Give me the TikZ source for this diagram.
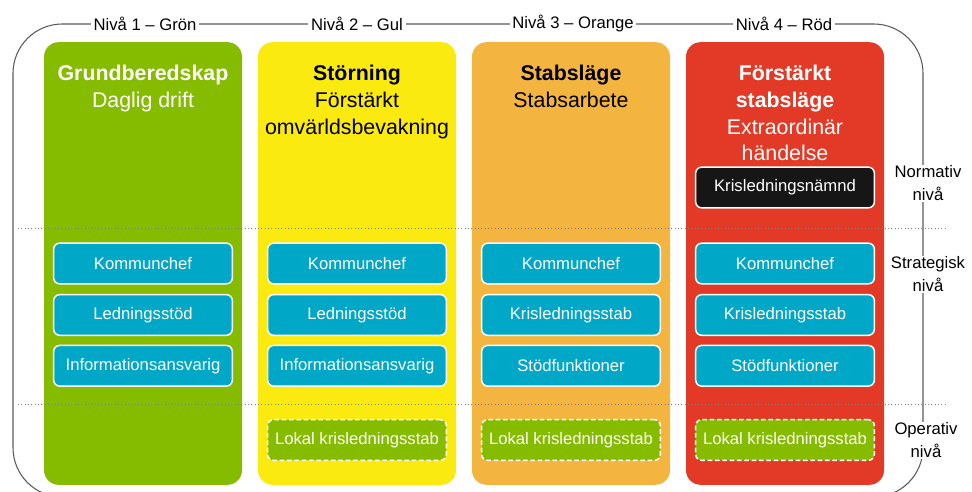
\documentclass[tikz,border=0pt]{standalone}
\usepackage{fontspec}
\setmainfont{Liberation Sans}
\usepackage{xcolor}
\usepackage{tikz}
\usetikzlibrary{positioning}

\definecolor{grn}{RGB}{133,188,0}
\definecolor{yel}{RGB}{251,234,16}
\definecolor{org}{RGB}{243,181,64}
\definecolor{redc}{RGB}{227,58,39}
\definecolor{cyanbox}{RGB}{0,167,198}
\definecolor{blk}{RGB}{22,22,22}
\definecolor{framegray}{RGB}{90,90,90}

\tikzset{
  col/.style={rounded corners=11pt,minimum width=148.5pt,minimum height=332pt,inner sep=0pt},
  role/.style={draw=white,line width=1.1pt,fill=cyanbox,text=white,rounded corners=4.5pt,
    minimum width=134pt,minimum height=30.5pt,inner sep=0pt,font=\fontsize{12.5}{15}\selectfont},
  lokal/.style={role,fill=grn,dash pattern=on 3.5pt off 2pt},
  title/.style={anchor=north,align=center,inner sep=0pt,font=\fontsize{16}{20}\selectfont},
  lvl/.style={fill=white,inner sep=2pt,font=\fontsize{12.5}{15}\selectfont},
  side/.style={fill=white,inner sep=1pt,align=center,font=\fontsize{12.5}{17.25}\selectfont}
}

\begin{document}
\begin{tikzpicture}[x=0.75pt,y=-0.75pt]
        \useasboundingbox (0,0) rectangle (972,492);
        \clip (0,0) rectangle (972,492);

        % Outer frame
        \draw[framegray,line width=0.8pt,rounded corners=37pt] (13,24) rectangle (923,497);

        % The four columns
        \foreach \i/\c in {1/grn,2/yel,3/org,4/redc} {
            \node[col,fill=\c] (col\i) at ({143+214*(\i-1)},263.5) {};
        }

        % Level borders
        \draw[gray,dotted,line width=0.5pt] (18,228) -- (946,228);
        \draw[gray,dotted,line width=0.5pt] (18,404) -- (946,404);

        % Column titles
        \node[title,text=white] (t1) at (col1.center |- 0,65) {\textbf{Grundberedskap}\\Daglig drift};
        \node[title] (t2) at (col2.center |- 0,65) {\textbf{Störning}\\Förstärkt\\omvärldsbevakning};
        \node[title] (t3) at (col3.center |- 0,65) {\textbf{Stabsläge}\\Stabsarbete};
        \node[title,text=white] (t4) at (col4.center |- 0,65) {\textbf{Förstärkt}\\\textbf{stabsläge}\\Extraordinär\\händelse};

        % Normative level
        \node[role,fill=blk] (nmd) at (col4.center |- 0,187.5) {Krisledningsnämnd};

        % Strategic level
        \foreach \i/\a/\b/\c in {1/Kommunchef/Ledningsstöd/Informationsansvarig,
                                 2/Kommunchef/Ledningsstöd/Informationsansvarig,
                                 3/Kommunchef/Krisledningsstab/Stödfunktioner,
                                 4/Kommunchef/Krisledningsstab/Stödfunktioner} {
            \node[role] (ka\i) at (col\i.center |- 0,263.5) {\a};
            \node[role,below=7pt of ka\i] (kb\i) {\b};
            \node[role,below=6.5pt of kb\i] (kc\i) {\c};
        }

        % Operative level
        \foreach \i in {2,3,4} {
            \node[lokal] (lk\i) at (col\i.center |- 0,440) {Lokal krisledningsstab};
        }

        % Level names
        \node[lvl] (n1) at (145,24) {Nivå 1 – Grön};
        \node[lvl] (n2) at (357,24) {Nivå 2 – Gul};
        \node[lvl] (n3) at (573,24) {Nivå 3 – Orange};
        \node[lvl] (n4) at (784,24) {Nivå 4 – Röd};

        \node[side] (s1) at (928,183.5) {Normativ\\nivå};
        \node[side] (s2) at (928,274.5) {Strategisk\\nivå};
        \node[side] (s3) at (926,440.5) {Operativ\\nivå};

    \end{tikzpicture}
\end{document}
